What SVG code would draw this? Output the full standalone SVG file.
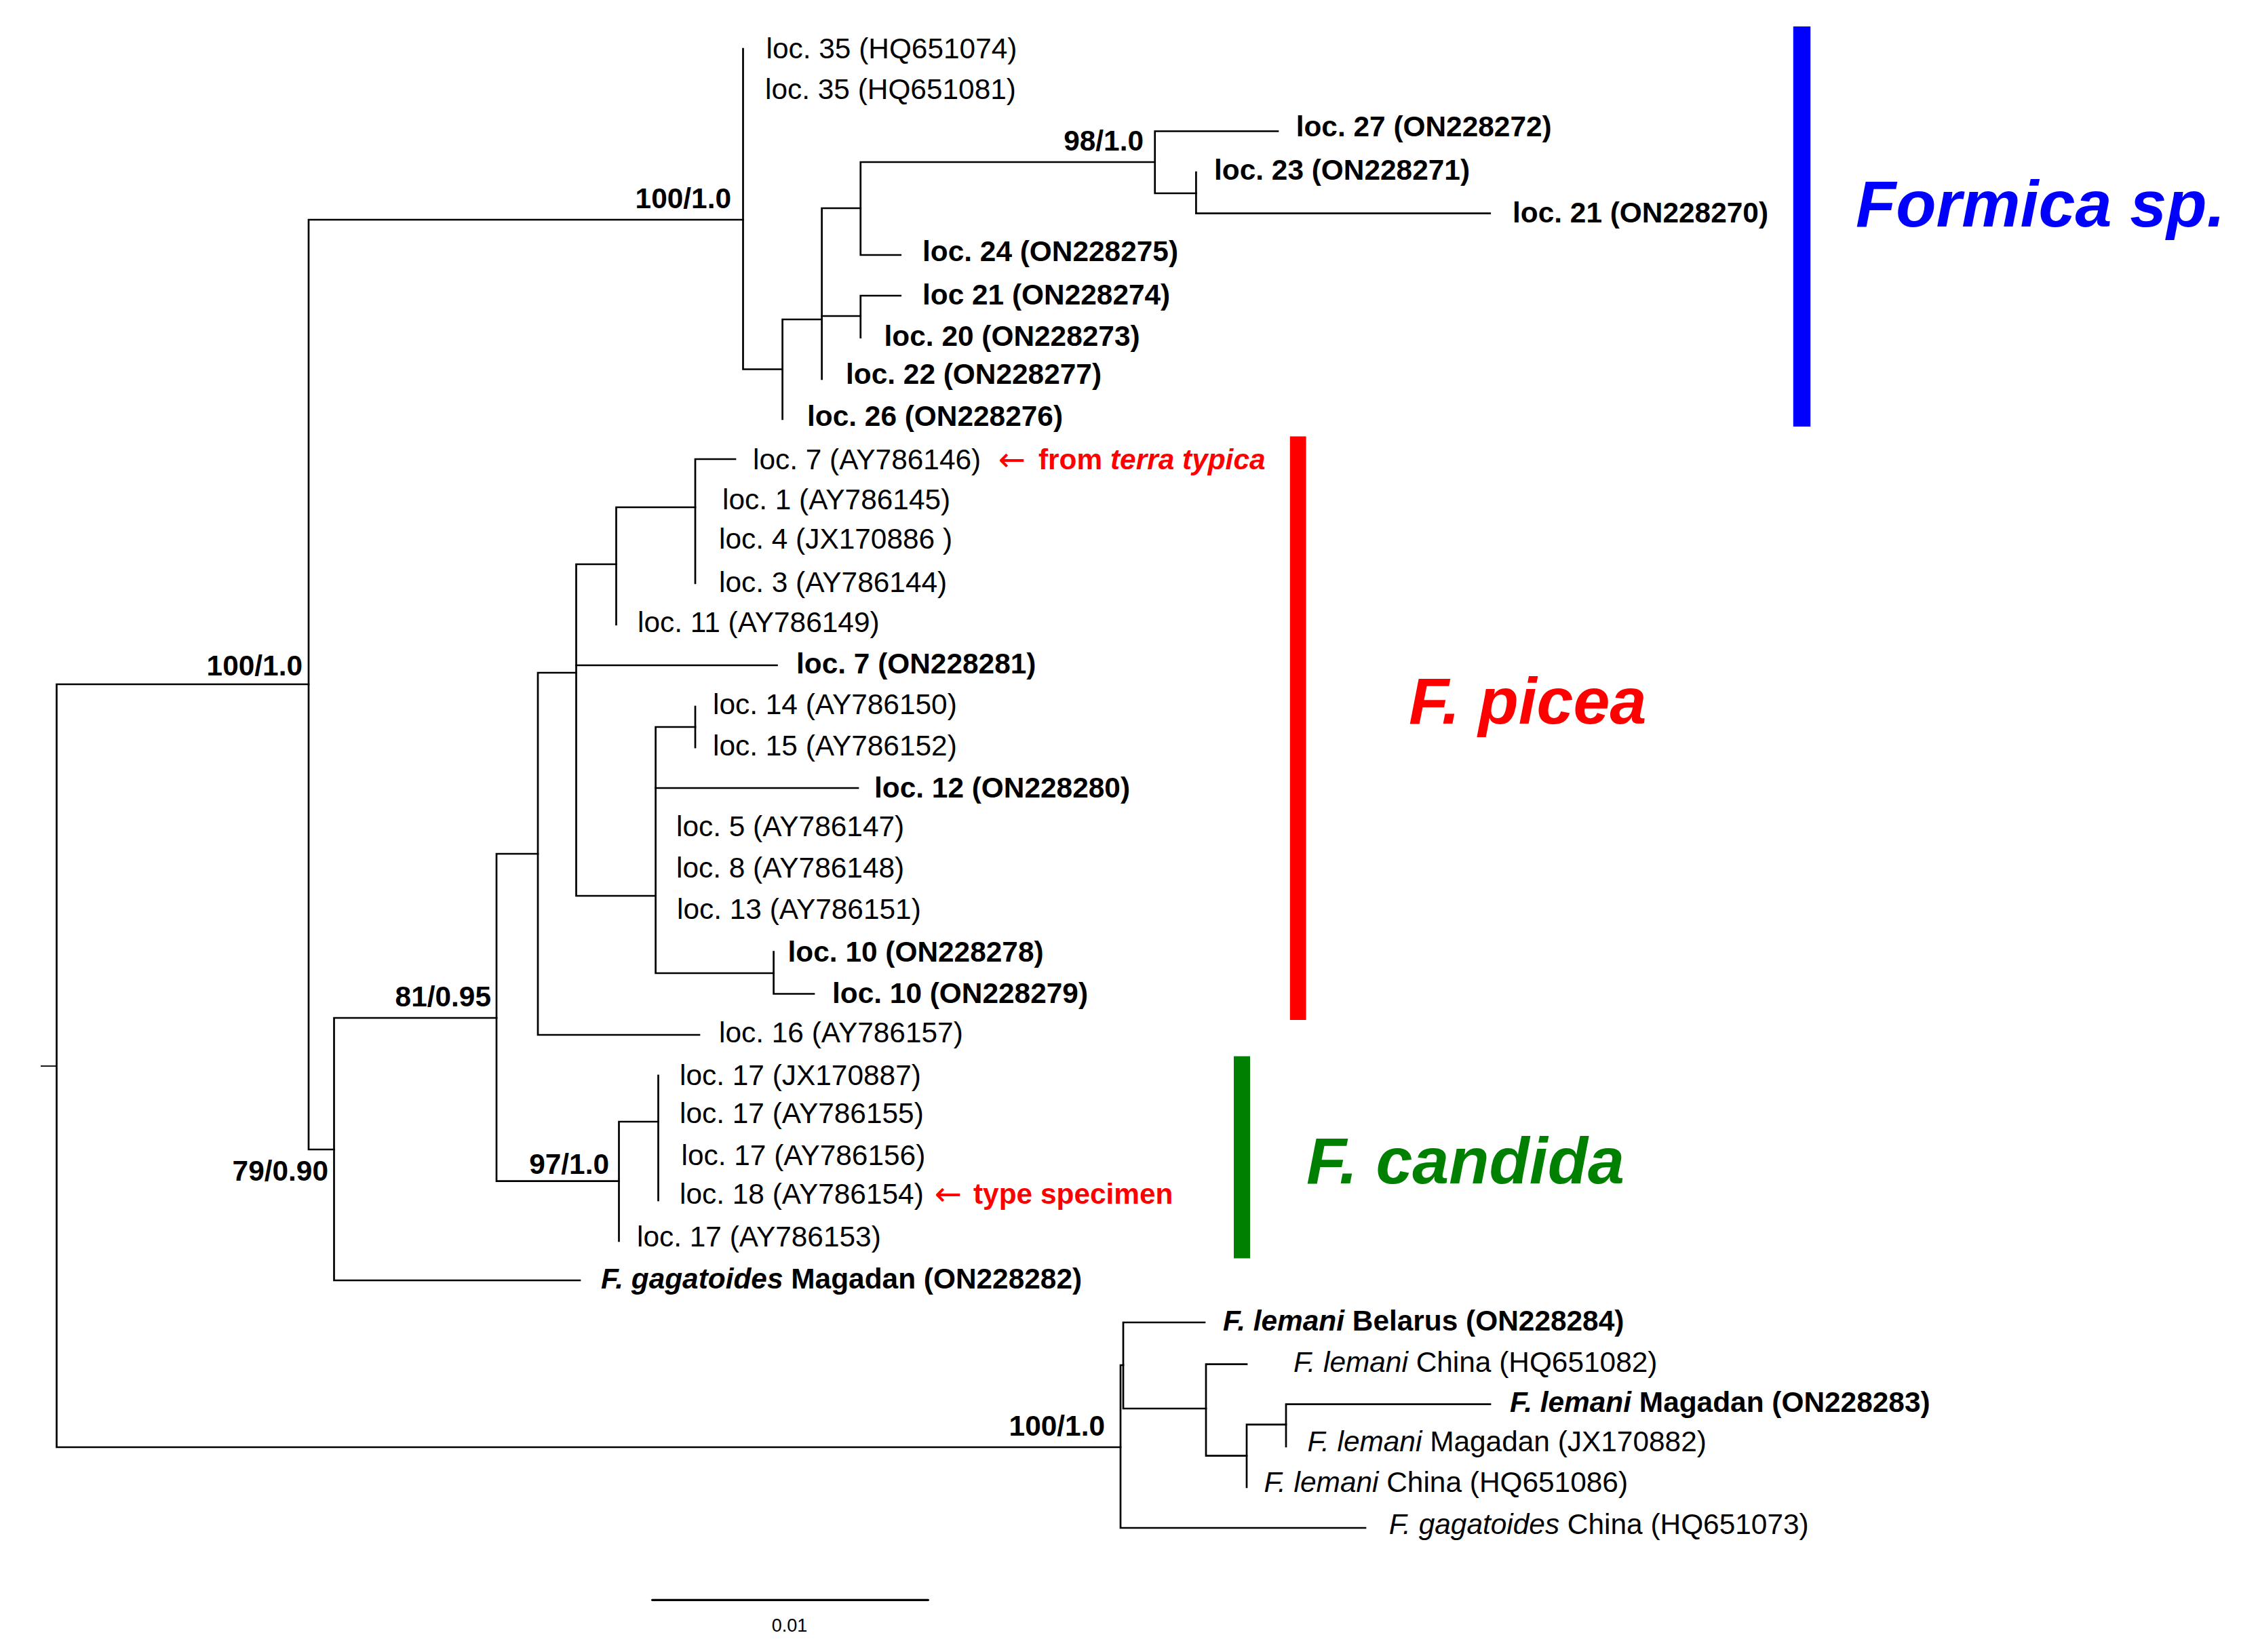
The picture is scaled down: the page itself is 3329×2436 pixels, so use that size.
<svg xmlns="http://www.w3.org/2000/svg" width="3329" height="2436" viewBox="0 0 3329 2436">
<style>
.ln{stroke:#000;stroke-width:2.7;fill:none;stroke-linecap:square}
.t{font-family:"Liberation Sans",Arial,sans-serif;font-size:42.4px;fill:#000}
.b{font-weight:bold}
.i{font-style:italic}
.big{font-family:"Liberation Sans",Arial,sans-serif;font-size:97px;font-weight:bold;font-style:italic}
.red{fill:#ff0000}
.arr{font-family:"DejaVu Sans",sans-serif;font-size:48px;fill:#ff0000}
</style>
<rect width="3329" height="2436" fill="#fff"/>
<g id="connectors">
<path class="ln" style="stroke-width:1.8;stroke-linecap:butt" d="M60 1572H83.5"/>
<path class="ln" d="M455 1009H83.5V2134H1652"/>
<path class="ln" d="M1095.5 324H455V1695H492.5"/>
<path class="ln" d="M1095.5 72V544.5H1153.6"/>
<path class="ln" d="M1211.6 471H1153.6V618"/>
<path class="ln" d="M1268.75 307H1211.6V559"/>
<path class="ln" d="M1211.6 466H1268.75"/>
<path class="ln" d="M1702.7 239H1268.75V376H1327.7"/>
<path class="ln" d="M1884 193.5H1702.7V285H1763.4"/>
<path class="ln" d="M1763.4 254V314.7H2196.7"/>
<path class="ln" d="M1327.7 436H1268.75V497.6"/>
<path class="ln" d="M732 1501H492.5V1888H855"/>
<path class="ln" d="M793 1259H732V1741.7H912.5"/>
<path class="ln" d="M849.5 992H793V1526H1031"/>
<path class="ln" d="M908.5 832H849.5V1321H966.6"/>
<path class="ln" d="M849.5 981H1145.5"/>
<path class="ln" d="M1025 748H908.5V921"/>
<path class="ln" d="M1084 677H1025V860"/>
<path class="ln" d="M1025 1072H966.6V1435H1140.6"/>
<path class="ln" d="M966.6 1162H1265"/>
<path class="ln" d="M1025 1042V1102"/>
<path class="ln" d="M1140.6 1403.5V1465.5H1200"/>
<path class="ln" d="M970.5 1654H912.5V1830"/>
<path class="ln" d="M970.5 1586V1770"/>
<path class="ln" d="M1656 2013H1652V2253H2013"/>
<path class="ln" d="M1776 1950H1656V2077H1778"/>
<path class="ln" d="M1838 2011.7H1778V2146.7H1838"/>
<path class="ln" d="M1896 2100.7H1838V2193"/>
<path class="ln" d="M2197 2070.7H1896V2133"/>
</g>
<g id="supports" class="t b" text-anchor="end">
<text x="446" y="996">100/1.0</text>
<text x="1078" y="307">100/1.0</text>
<text x="484" y="1741">79/0.90</text>
<text x="724" y="1484">81/0.95</text>
<text x="898" y="1731">97/1.0</text>
<text x="1686" y="222">98/1.0</text>
<text x="1629" y="2117">100/1.0</text>
</g>
<g id="formica-clade">
<g id="n-loc35a"><text class="t" x="1129.5" y="86">loc. 35 (HQ651074)</text></g>
<g id="n-loc35b"><text class="t" x="1128" y="146">loc. 35 (HQ651081)</text></g>
<g id="n-loc27"><text class="t b" x="1910.7" y="201">loc. 27 (ON228272)</text></g>
<g id="n-loc23"><text class="t b" x="1790" y="265">loc. 23 (ON228271)</text></g>
<g id="n-loc21a"><text class="t b" x="2230" y="328">loc. 21 (ON228270)</text></g>
<g id="n-loc24"><text class="t b" x="1360" y="385">loc. 24 (ON228275)</text></g>
<g id="n-loc21b"><text class="t b" x="1360" y="449">loc 21 (ON228274)</text></g>
<g id="n-loc20"><text class="t b" x="1303.6" y="510">loc. 20 (ON228273)</text></g>
<g id="n-loc22"><text class="t b" x="1247" y="566">loc. 22 (ON228277)</text></g>
<g id="n-loc26"><text class="t b" x="1190" y="628">loc. 26 (ON228276)</text></g>
</g>
<g id="picea-clade">
<g id="n-loc7a"><text class="t" x="1110" y="692">loc. 7 (AY786146)</text>
<text class="arr" x="1472" y="694">←</text>
<text class="t b red" x="1531" y="692">from <tspan class="i">terra typica</tspan></text></g>
<g id="n-loc1"><text class="t" x="1065" y="751">loc. 1 (AY786145)</text></g>
<g id="n-loc4"><text class="t" x="1060" y="809">loc. 4 (JX170886 )</text></g>
<g id="n-loc3"><text class="t" x="1060" y="873">loc. 3 (AY786144)</text></g>
<g id="n-loc11"><text class="t" x="940" y="932">loc. 11 (AY786149)</text></g>
<g id="n-loc7b"><text class="t b" x="1174" y="993">loc. 7 (ON228281)</text></g>
<g id="n-loc14"><text class="t" x="1051" y="1053">loc. 14 (AY786150)</text></g>
<g id="n-loc15"><text class="t" x="1051" y="1114">loc. 15 (AY786152)</text></g>
<g id="n-loc12"><text class="t b" x="1289" y="1176">loc. 12 (ON228280)</text></g>
<g id="n-loc5"><text class="t" x="997" y="1233">loc. 5 (AY786147)</text></g>
<g id="n-loc8"><text class="t" x="997" y="1294">loc. 8 (AY786148)</text></g>
<g id="n-loc13"><text class="t" x="998" y="1355">loc. 13 (AY786151)</text></g>
<g id="n-loc10a"><text class="t b" x="1161.6" y="1418">loc. 10 (ON228278)</text></g>
<g id="n-loc10b"><text class="t b" x="1227" y="1479">loc. 10 (ON228279)</text></g>
<g id="n-loc16"><text class="t" x="1060" y="1537">loc. 16 (AY786157)</text></g>
</g>
<g id="candida-clade">
<g id="n-loc17a"><text class="t" x="1002" y="1600">loc. 17 (JX170887)</text></g>
<g id="n-loc17b"><text class="t" x="1002" y="1656">loc. 17 (AY786155)</text></g>
<g id="n-loc17c"><text class="t" x="1004.5" y="1718">loc. 17 (AY786156)</text></g>
<g id="n-loc18"><text class="t" x="1002" y="1775">loc. 18 (AY786154)</text>
<text class="arr" x="1378" y="1777">←</text>
<text class="t b red" x="1435" y="1775">type specimen</text></g>
<g id="n-loc17d"><text class="t" x="939" y="1838">loc. 17 (AY786153)</text></g>
<g id="n-gagMag"><text class="t b" x="886" y="1900"><tspan class="i">F. gagatoides</tspan> Magadan (ON228282)</text></g>
</g>
<g id="lemani-clade">
<g id="n-lemBel"><text class="t b" x="1803" y="1962"><tspan class="i">F. lemani</tspan> Belarus (ON228284)</text></g>
<g id="n-lemChi1"><text class="t" x="1907" y="2023"><tspan class="i">F. lemani</tspan> China (HQ651082)</text></g>
<g id="n-lemMag1"><text class="t b" x="2226" y="2082"><tspan class="i">F. lemani</tspan> Magadan (ON228283)</text></g>
<g id="n-lemMag2"><text class="t" x="1927.5" y="2140"><tspan class="i">F. lemani</tspan> Magadan (JX170882)</text></g>
<g id="n-lemChi2"><text class="t" x="1863.6" y="2200"><tspan class="i">F. lemani</tspan> China (HQ651086)</text></g>
<g id="n-gagChi"><text class="t" x="2047.7" y="2262"><tspan class="i">F. gagatoides</tspan> China (HQ651073)</text></g>
</g>
<g id="clade-bars">
<rect x="2643.8" y="39" width="25.4" height="590" fill="#0000ff"/>
<text class="big" x="2736" y="334" fill="#0000ff">Formica sp.</text>
<rect x="1901.8" y="643.5" width="23.8" height="860.5" fill="#ff0000"/>
<text class="big" x="2077" y="1067" fill="#ff0000">F. picea</text>
<rect x="1819" y="1557.5" width="24" height="298" fill="#008000"/>
<text class="big" x="1926" y="1745" fill="#008000">F. candida</text>
</g>
<g id="scale">
<path d="M961.7 2359.3H1368.3" stroke="#000" stroke-width="3.3" stroke-linecap="round"/>
<text x="1164" y="2406" text-anchor="middle" style="font-family:'Liberation Sans',Arial,sans-serif;font-size:27px">0.01</text>
</g>
</svg>
